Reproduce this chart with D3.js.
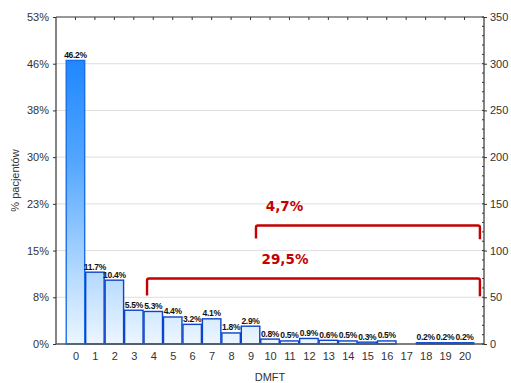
<!DOCTYPE html>
<html><head><meta charset="utf-8">
<script src="https://cdn.jsdelivr.net/npm/d3@7"></script>
<style>body{margin:0;background:#fff}svg{display:block}</style>
</head><body>
<svg id="c" width="511" height="383"></svg>
<script>
const categories = ["0","1","2","3","4","5","6","7","8","9","10","11","12","13","14","15","16","17","18","19","20"];
const percentValues = [46.2,11.7,10.4,5.5,5.3,4.4,3.2,4.1,1.8,2.9,0.8,0.5,0.9,0.6,0.5,0.3,0.5,0,0.2,0.2,0.2];
const percentLabels = ["46.2%","11.7%","10.4%","5.5%","5.3%","4.4%","3.2%","4.1%","1.8%","2.9%","0.8%","0.5%","0.9%","0.6%","0.5%","0.3%","0.5%","","0.2%","0.2%","0.2%"];
const totalPatients = 657;
const countTicks = [0,50,100,150,200,250,300,350];
const percentTickLabels = ["0%","8%","15%","23%","30%","38%","46%","53%"];
const bracketLabels = ["4,7%","29,5%"];
const bracketFrom = [9.28, 3.68];
const bracketTo = [20.79, 20.79];
const bracketLevel = [126.8, 70.1];
const bracketLegEnd = [[112.9,112.2],[52.0,51.0]];

const svg = d3.select("#c");
const L=56, R=484, T=17, B=344;
const x = d3.scaleLinear().domain([-1,21]).range([L,R]);
const y = d3.scaleLinear().domain([0,350]).range([B,T]);
const step = x(1)-x(0);

const defs = svg.append("defs");
const g = defs.append("linearGradient").attr("id","bg").attr("gradientUnits","userSpaceOnUse")
  .attr("x1",0).attr("y1",T).attr("x2",0).attr("y2",B);
g.append("stop").attr("offset",0).attr("stop-color","#0f78f7");
g.append("stop").attr("offset",0.15).attr("stop-color","#2289ff");
g.append("stop").attr("offset",0.45).attr("stop-color","#55a7ff");
g.append("stop").attr("offset",0.78).attr("stop-color","#b3d9ff");
g.append("stop").attr("offset",1).attr("stop-color","#ecf6ff");

// gridlines
svg.append("g").selectAll("line").data(countTicks.filter(d=>d>0&&d<350)).join("line")
  .attr("x1",L).attr("x2",R).attr("y1",d=>y(d)).attr("y2",d=>y(d))
  .attr("stroke","#dedede").attr("stroke-width",1);

// bars
const toCount = p => p/100*totalPatients;
svg.append("g").selectAll("rect").data(percentValues).join("rect")
  .attr("x",(d,i)=>x(i)-step/2+0.5)
  .attr("width",step-1)
  .attr("y",d=>y(toCount(d)))
  .attr("height",d=>B-y(toCount(d)))
  .attr("fill","url(#bg)")
  .attr("stroke",(d,i)=>i===0?"#1a6fe6":"#0d44c8")
  .attr("stroke-width",1.4);

// value labels
svg.append("g").selectAll("text").data(percentValues).join("text")
  .attr("x",(d,i)=>x(i)).attr("y",d=>y(toCount(d))-2.5)
  .attr("text-anchor","middle")
  .attr("font-family","Liberation Sans, Arial, sans-serif")
  .attr("font-weight","bold").attr("font-size","8.5px").attr("letter-spacing","-0.3")
  .attr("fill","#111")
  .text((d,i)=>percentLabels[i]);

// frame
const fr = svg.append("g").attr("stroke","#333").attr("stroke-width",1.2).attr("fill","none");
fr.append("line").attr("x1",L).attr("x2",L).attr("y1",T).attr("y2",B);
fr.append("line").attr("x1",R).attr("x2",R).attr("y1",T).attr("y2",B);
fr.append("line").attr("x1",L).attr("x2",R).attr("y1",T).attr("y2",T);
fr.append("line").attr("x1",L).attr("x2",R).attr("y1",B).attr("y2",B).attr("stroke","#555").attr("stroke-width",1.6);

// left axis
const leftAxis = d3.axisLeft(y).tickValues(countTicks).tickSize(3).tickPadding(4)
  .tickFormat((d,i)=>percentTickLabels[i]);
const la = svg.append("g").attr("transform",`translate(${L},0)`).call(leftAxis);
la.select(".domain").remove();
la.selectAll("text").attr("font-family","Liberation Sans, Arial, sans-serif").attr("font-size","11px").attr("fill","#333");
la.selectAll("line").attr("stroke","#333");

// right axis
const rightAxis = d3.axisRight(y).tickValues(countTicks).tickSize(3).tickPadding(3);
const ra = svg.append("g").attr("transform",`translate(${R},0)`).call(rightAxis);
ra.select(".domain").remove();
ra.selectAll("text").attr("font-family","Liberation Sans, Arial, sans-serif").attr("font-size","11px").attr("fill","#333");
ra.selectAll("line").attr("stroke","#333");
const minor = d3.range(0,351,10);
svg.append("g").selectAll("line").data(minor).join("line")
  .attr("x1",R-2).attr("x2",R).attr("y1",d=>y(d)).attr("y2",d=>y(d)).attr("stroke","#333");

// top ticks
svg.append("g").selectAll("line").data(categories).join("line")
  .attr("x1",(d,i)=>x(i)).attr("x2",(d,i)=>x(i)).attr("y1",T).attr("y2",T+3).attr("stroke","#333");

// bottom axis labels
const bottomAxis = d3.axisBottom(x).tickValues(d3.range(categories.length)).tickSize(0).tickPadding(8)
  .tickFormat(i=>categories[i]);
const ba = svg.append("g").attr("transform",`translate(0,${B})`).call(bottomAxis);
ba.select(".domain").remove();
ba.selectAll("text").attr("font-family","Liberation Sans, Arial, sans-serif").attr("font-size","11px").attr("fill","#333");

// axis titles
svg.append("text").attr("x",270).attr("y",381).attr("text-anchor","middle")
  .attr("font-family","Liberation Sans, Arial, sans-serif").attr("font-size","11px").attr("fill","#333").text("DMFT");
svg.append("text").attr("transform",`translate(19,${(T+B)/2}) rotate(-90)`).attr("text-anchor","middle")
  .attr("font-family","Liberation Sans, Arial, sans-serif").attr("font-size","11px").attr("fill","#333").text("% pacjentów");

// brackets
const br = svg.append("g");
bracketLabels.forEach((lab,k)=>{
  const x0=x(bracketFrom[k]), x1=x(bracketTo[k]), yl=y(bracketLevel[k]);
  const r=2;
  const path = `M${x0},${y(bracketLegEnd[k][0])} L${x0},${yl+r} Q${x0},${yl} ${x0+r},${yl} L${x1-r},${yl} Q${x1},${yl} ${x1},${yl+r} L${x1},${y(bracketLegEnd[k][1])}`;
  br.append("path").attr("d",path).attr("fill","none").attr("stroke","#c40000").attr("stroke-width",2.4);
});
const labelPos = [[284.5,210.5],[285,263.5]];
br.selectAll("text").data(bracketLabels).join("text")
  .attr("x",(d,i)=>labelPos[i][0]).attr("y",(d,i)=>labelPos[i][1])
  .attr("text-anchor","middle").attr("font-family","DejaVu Sans, Verdana, sans-serif")
  .attr("font-weight","bold").attr("font-size","13.5px").attr("fill","#c40000").text(d=>d);
</script>
</body></html>
